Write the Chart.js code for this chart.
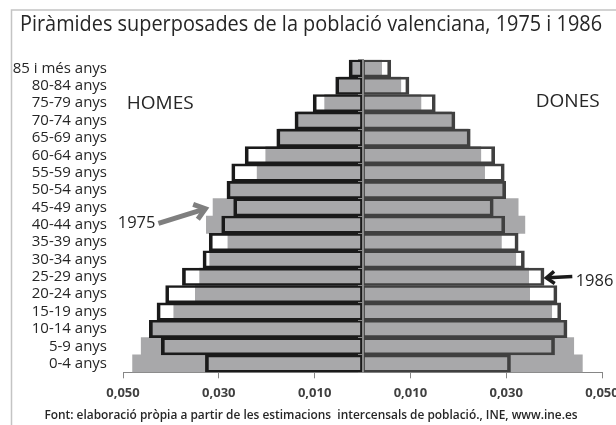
<!DOCTYPE html>
<html>
<head>
<meta charset="utf-8">
<script src="https://cdn.jsdelivr.net/npm/chart.js@4.4.1/dist/chart.umd.min.js"></script>
<style>
  html, body { margin: 0; padding: 0; background: #fff; }
  #wrap { width: 616px; height: 425px; }
</style>
</head>
<body>
<div id="wrap"><canvas id="chartPiramide" width="616" height="425"></canvas></div>
<script>
// Grups d'edat (de dalt a baix)
const grups = ['85 i més anys', '80-84 anys', '75-79 anys', '70-74 anys', '65-69 anys',
  '60-64 anys', '55-59 anys', '50-54 anys', '45-49 anys', '40-44 anys', '35-39 anys',
  '30-34 anys', '25-29 anys', '20-24 anys', '15-19 anys', '10-14 anys', '5-9 anys', '0-4 anys'];

// Proporcions sobre el total (llegides del gràfic)
const homes1975 = [0.0025, 0.0050, 0.0079, 0.0137, 0.0175, 0.0202, 0.0220, 0.0279, 0.0312,
  0.0326, 0.0281, 0.0319, 0.0340, 0.0349, 0.0394, 0.0441, 0.0462, 0.0480];
const dones1975 = [0.0040, 0.0080, 0.0122, 0.0186, 0.0221, 0.0247, 0.0255, 0.0294, 0.0325,
  0.0339, 0.0290, 0.0320, 0.0347, 0.0349, 0.0395, 0.0423, 0.0441, 0.0459];
const homes1986 = [0.0028, 0.0056, 0.0103, 0.0141, 0.0179, 0.0245, 0.0273, 0.0283, 0.0269,
  0.0294, 0.0320, 0.0333, 0.0376, 0.0411, 0.0429, 0.0445, 0.0420, 0.0328];
const dones1986 = [0.0059, 0.0097, 0.0152, 0.0193, 0.0225, 0.0276, 0.0296, 0.0299, 0.0273,
  0.0297, 0.0325, 0.0338, 0.0379, 0.0406, 0.0414, 0.0427, 0.0401, 0.0309];

// Marques de l'eix horitzontal
const xTicks = [-0.05, -0.03, -0.01, 0.01, 0.03, 0.05];

const FONT = "'Open Sans', 'Noto Sans', sans-serif";

// Marc, rètols i fletxes
const anotacions = {
  id: 'anotacions',
  afterLayout(chart) {
    // que les etiquetes de l'eix no es retallin pel marge esquerre
    chart.scales.y.left = 0;
  },
  beforeDraw(chart) {
    const ctx = chart.ctx;
    ctx.save();
    ctx.strokeStyle = '#c4c4c4';
    ctx.lineWidth = 1.5;
    ctx.strokeRect(11.5, 10, 900, 700);
    ctx.restore();
  },
  afterDraw(chart) {
    const ctx = chart.ctx;
    const x = chart.scales.x;
    const y = chart.scales.y;
    ctx.save();
    ctx.fillStyle = '#262626';
    ctx.textBaseline = 'middle';
    ctx.font = '19px ' + FONT;
    ctx.textAlign = 'left';
    ctx.fillText('HOMES', x.getPixelForValue(-0.0492), y.getPixelForValue(2));
    ctx.textAlign = 'right';
    ctx.fillText('DONES', x.getPixelForValue(0.0495), y.getPixelForValue(2) - 2);

    ctx.font = '16.5px ' + FONT;
    ctx.textAlign = 'left';
    ctx.fillText('1975', x.getPixelForValue(-0.0511), y.getPixelForValue(8.9));
    ctx.fillText('1986', x.getPixelForValue(0.0445), y.getPixelForValue(12.28));

    fletxa(ctx, x.getPixelForValue(-0.0426), y.getPixelForValue(8.92),
      x.getPixelForValue(-0.0328), y.getPixelForValue(8.08), '#7f7f7f', 5, 13);
    fletxa(ctx, x.getPixelForValue(0.0438), y.getPixelForValue(11.98),
      x.getPixelForValue(0.0384), y.getPixelForValue(12.06), '#1a1a1a', 3.5, 10);
    ctx.restore();
  }
};

function fletxa(ctx, x0, y0, x1, y1, color, w, head) {
  const a = Math.atan2(y1 - y0, x1 - x0);
  ctx.strokeStyle = color;
  ctx.lineWidth = w;
  ctx.lineCap = 'butt';
  ctx.lineJoin = 'miter';
  ctx.beginPath();
  ctx.moveTo(x0, y0);
  ctx.lineTo(x1 - Math.cos(a) * w * 0.4, y1 - Math.sin(a) * w * 0.4);
  ctx.stroke();
  ctx.beginPath();
  ctx.moveTo(x1 - head * Math.cos(a - 0.65), y1 - head * Math.sin(a - 0.65));
  ctx.lineTo(x1, y1);
  ctx.lineTo(x1 - head * Math.cos(a + 0.65), y1 - head * Math.sin(a + 0.65));
  ctx.stroke();
}

const chart = new Chart(document.getElementById('chartPiramide').getContext('2d'), {
  type: 'bar',
  data: {
    labels: grups,
    datasets: [
      {
        label: 'Homes 1986',
        data: homes1986.map(v => -v),
        backgroundColor: 'rgba(0,0,0,0)',
        borderColor: '#1a1a1a',
        borderWidth: { top: 2, bottom: 2, left: 3, right: 2 },
        borderSkipped: false,
        categoryPercentage: 1,
        barPercentage: 1,
        order: 0
      },
      {
        label: 'Dones 1986',
        data: dones1986,
        backgroundColor: 'rgba(0,0,0,0)',
        borderColor: '#404040',
        borderWidth: { top: 2, bottom: 2, left: 2, right: 3 },
        borderSkipped: false,
        categoryPercentage: 1,
        barPercentage: 1,
        order: 0
      },
      {
        label: 'Homes 1975',
        data: homes1975.map(v => -v),
        backgroundColor: '#a8a8aa',
        borderWidth: 0,
        categoryPercentage: 1,
        barPercentage: 1,
        order: 1
      },
      {
        label: 'Dones 1975',
        data: dones1975,
        backgroundColor: '#a8a8aa',
        borderWidth: 0,
        categoryPercentage: 1,
        barPercentage: 1,
        order: 1
      }
    ]
  },
  options: {
    indexAxis: 'y',
    responsive: false,
    animation: false,
    layout: { padding: { left: 20, right: 14, top: 0, bottom: 0 } },
    plugins: {
      legend: { display: false },
      tooltip: { enabled: false },
      title: {
        display: true,
        text: 'Piràmides superposades de la població valenciana, 1975 i 1986',
        align: 'start',
        color: '#262626',
        font: { family: FONT, size: 21.2, weight: 'normal' },
        padding: { top: 12, bottom: 22.3 }
      },
      subtitle: {
        display: true,
        position: 'bottom',
        text: 'Font: elaboració pròpia a partir de les estimacions  intercensals de població., INE, www.ine.es',
        color: '#262626',
        font: { family: FONT, size: 11.9, weight: '600' },
        padding: { top: 5.8, bottom: 2.6 }
      }
    },
    scales: {
      x: {
        min: -0.05,
        max: 0.05,
        stacked: false,
        afterBuildTicks: scale => { scale.ticks = xTicks.map(v => ({ value: v })); },
        afterFit: scale => { scale.height = 30; scale.paddingLeft = 0; scale.paddingRight = 0; },
        ticks: {
          callback: v => Math.abs(v).toFixed(3).replace('.', ','),
          color: '#404040',
          font: { family: FONT, size: 13, weight: 'bold' },
          padding: 7,
          maxRotation: 0
        },
        grid: { drawOnChartArea: false, drawTicks: true, tickLength: 6, color: '#868686' },
        border: { display: true, color: '#868686', width: 1 }
      },
      y: {
        stacked: true,
        afterFit: scale => { scale.width = 103; scale.paddingTop = 0; scale.paddingBottom = 0; },
        ticks: {
          color: '#262626',
          font: { family: FONT, size: 15 },
          padding: 16,
          autoSkip: false
        },
        grid: { display: false, drawTicks: false },
        border: { display: false }
      },
      y2: {
        type: 'category',
        axis: 'y',
        position: { x: 0 },
        offset: true,
        afterFit: scale => { scale.paddingTop = 0; scale.paddingBottom = 0; },
        ticks: { display: false },
        grid: { drawOnChartArea: false, drawTicks: true, tickLength: 4, offset: true, color: '#868686', z: 1 },
        border: { display: true, color: '#8a8a8a', width: 2, z: 1 }
      }
    }
  },
  plugins: [anotacions]
});
</script>
</body>
</html>
